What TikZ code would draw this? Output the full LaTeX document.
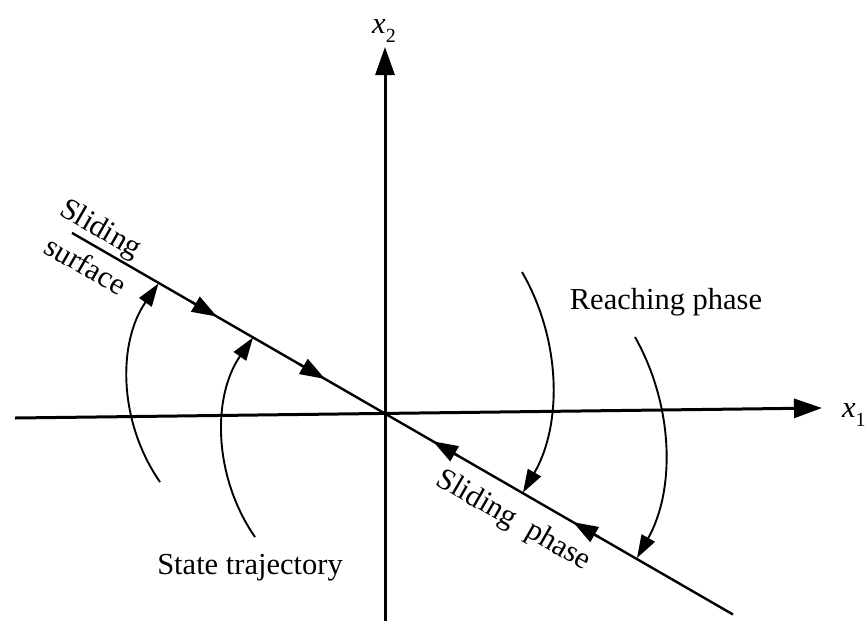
\documentclass[tikz,border=0pt]{standalone}
\usepackage{fontspec}
\setmainfont{Liberation Serif}
\usetikzlibrary{arrows.meta,calc}
\begin{document}
\begin{tikzpicture}[x=1pt,y=-1pt,
  axis/.style={line width=3pt,-{Triangle[length=28pt,width=19pt]}},
  surf/.style={line width=2.4pt},
  surftip/.style={line width=2.4pt,-{Triangle[length=25pt,width=17pt]}},
  traj/.style={line width=1.9pt,-{Triangle[length=23pt,width=15pt]}},
  lbl/.style={font=\fontsize{30.5}{36}\selectfont, inner sep=0pt}]
\useasboundingbox (0,0) rectangle (867,633);
% axes
\coordinate (xl) at (15,418);
\coordinate (xr) at (822,408);
\coordinate (yb) at (385,621);
\coordinate (yt) at (385,47);
\draw[axis] (xl) -- (xr);
\draw[axis] (yb) -- (yt);
\node[lbl, anchor=base west] (x1) at (842,417) {\textit{x}\raisebox{-0.3em}{\fontsize{20}{24}\selectfont 1}};
\node[lbl] (x2) at (384,31) {\textit{x}\raisebox{-0.3em}{\fontsize{20}{24}\selectfont 2}};
% sliding surface
\coordinate (O) at (384,413);
\coordinate (s1) at (72,232.9);
\coordinate (s2) at (733,614.5);
\draw[surf] (s1) -- (s2);
\coordinate (L1) at (217,316.6);
\coordinate (L1b) at (191,301.6);
\coordinate (L2) at (325,378.9);
\coordinate (L2b) at (299,363.9);
\coordinate (R1) at (433,441.3);
\coordinate (R1b) at (459,456.3);
\coordinate (R2) at (573,522.1);
\coordinate (R2b) at (599,537.1);
\draw[surftip] (L1b) -- (L1);
\draw[surftip] (L2b) -- (L2);
\draw[surftip] (R1b) -- (R1);
\draw[surftip] (R2b) -- (R2);
% trajectories
\coordinate (c1s) at (160,482);
\coordinate (c1e) at (158.5,283.5);
\coordinate (c2s) at (255,537);
\coordinate (c2e) at (253,337.5);
\coordinate (c3s) at (522,272);
\coordinate (c3e) at (523,492.5);
\coordinate (c4s) at (635,337);
\coordinate (c4e) at (637,558);
\draw[traj] (c1s) .. controls (118.6,422.4) and (117.1,343.1) .. (c1e);
\draw[traj] (c2s) .. controls (213.6,477.4) and (211.6,397.1) .. (c2e);
\draw[traj] (c3s) .. controls (561.4,340.2) and (562.4,424.3) .. (c3e);
\draw[traj] (c4s) .. controls (673.6,405.5) and (675.6,489.5) .. (c4e);
% labels
\node[lbl, rotate=-30] (sl1) at (100,230) {Sliding};
\node[lbl, rotate=-30] (sl2) at (86,265) {surface};
\node[lbl, rotate=-30] (sp) at (513,521) {Sliding\hspace{0.5em}phase};
\node[lbl] (rp) at (666,302) {Reaching phase};
\node[lbl] (st) at (250,568) {State trajectory};
\end{tikzpicture}
\end{document}
